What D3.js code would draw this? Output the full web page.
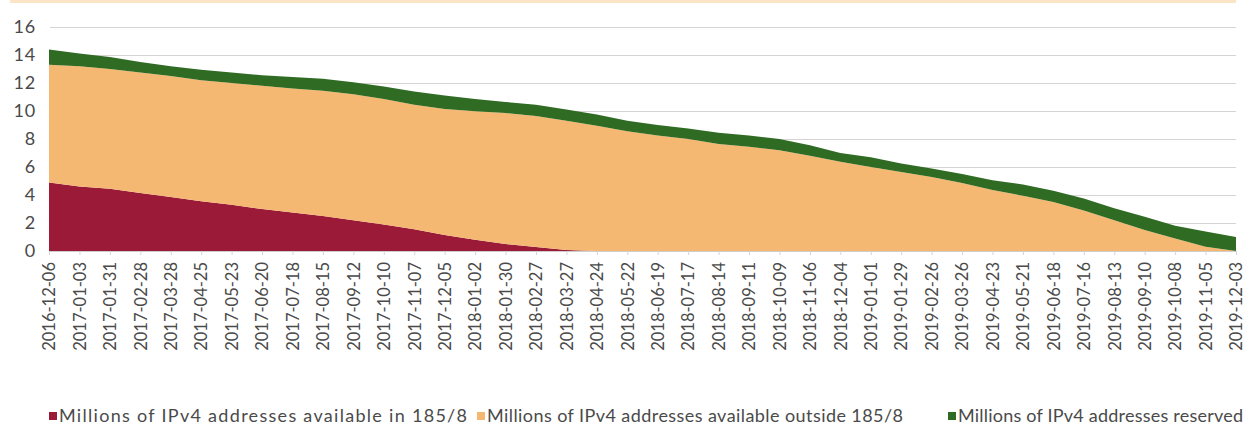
<!DOCTYPE html>
<html>
<head>
<meta charset="utf-8">
<script src="https://cdn.jsdelivr.net/npm/d3@7"></script>
<style>
  html, body { margin: 0; padding: 0; background: #ffffff; }
  svg { display: block; }
  text { font-family: Lato, "Open Sans", sans-serif; }
</style>
</head>
<body>
<svg id="chart" width="1252" height="444"></svg>
<script>
// ---- data ----
const dates = ["2016-12-06","2017-01-03","2017-01-31","2017-02-28","2017-03-28","2017-04-25","2017-05-23","2017-06-20","2017-07-18","2017-08-15","2017-09-12","2017-10-10","2017-11-07","2017-12-05","2018-01-02","2018-01-30","2018-02-27","2018-03-27","2018-04-24","2018-05-22","2018-06-19","2018-07-17","2018-08-14","2018-09-11","2018-10-09","2018-11-06","2018-12-04","2019-01-01","2019-01-29","2019-02-26","2019-03-26","2019-04-23","2019-05-21","2019-06-18","2019-07-16","2019-08-13","2019-09-10","2019-10-08","2019-11-05","2019-12-03"];

const inside185 = [4.9,4.6,4.45,4.15,3.85,3.55,3.3,3.0,2.75,2.5,2.2,1.9,1.55,1.15,0.8,0.5,0.28,0.08,0,0,0,0,0,0,0,0,0,0,0,0,0,0,0,0,0,0,0,0,0,0];
const outside185 = [8.4,8.6,8.55,8.6,8.65,8.65,8.7,8.8,8.85,8.95,9.0,8.95,8.9,9.0,9.18,9.35,9.37,9.22,8.95,8.55,8.25,8.0,7.65,7.45,7.2,6.8,6.37,6.0,5.65,5.28,4.85,4.35,3.95,3.5,2.9,2.2,1.5,0.9,0.3,0.0];
const reserved = [1.1,0.9,0.85,0.75,0.7,0.75,0.75,0.75,0.82,0.85,0.85,0.9,0.95,0.95,0.87,0.8,0.8,0.8,0.8,0.75,0.75,0.75,0.8,0.8,0.8,0.75,0.63,0.7,0.6,0.62,0.65,0.7,0.8,0.8,0.85,0.85,0.95,0.9,1.1,1.0];

const seriesNames = ["Millions of IPv4 addresses available in 185/8","Millions of IPv4 addresses available outside 185/8","Millions of IPv4 addresses reserved"];
const seriesColors = ["#9a1a37","#f5b873","#306b24"];
const yTicks = [0,2,4,6,8,10,12,14,16];

// ---- build table ----
const parse = d3.timeParse("%Y-%m-%d");
const keys = ["inside","outside","reserved"];
const rows = dates.map((d, i) => ({ date: parse(d), inside: inside185[i], outside: outside185[i], reserved: reserved[i] }));
const stacked = d3.stack().keys(keys)(rows);

// ---- layout ----
const svg = d3.select("#chart");
const plotLeft = 50, plotRight = 1236, plotTop = 27, plotBottom = 251;

const x = d3.scaleTime().domain(d3.extent(rows, d => d.date)).range([49, 1236]);
const y = d3.scaleLinear().domain([0, 16]).range([plotBottom, plotTop]);

// top decorative band
svg.append("rect").attr("x", 10).attr("y", 0).attr("width", 1226).attr("height", 3).attr("fill", "#fce4c6");

// gridlines
const gy = svg.append("g").attr("transform", `translate(${plotLeft},0)`)
  .call(d3.axisLeft(y).tickValues(yTicks).tickSize(-(plotRight - plotLeft)).tickFormat(""));
gy.select(".domain").remove();
gy.selectAll(".tick line").attr("stroke", "#d6d3d3").attr("stroke-width", 1.2);

// areas
const area = d3.area().x(d => x(d.data.date)).y0(d => y(d[0])).y1(d => y(d[1]));
svg.append("g").selectAll("path").data(stacked).join("path")
  .attr("d", area).attr("fill", (d, i) => seriesColors[i]);

// y axis labels
const ya = svg.append("g").attr("transform", `translate(${plotLeft},0)`)
  .call(d3.axisLeft(y).tickValues(yTicks).tickSize(0).tickPadding(14));
ya.select(".domain").remove();
ya.selectAll("text").attr("font-size", 18).attr("fill", "#4a4a4a").attr("font-family", "Lato, sans-serif")
  .attr("letter-spacing", 0.8);

// x axis
const xa = svg.append("g").attr("transform", `translate(0,${plotBottom})`)
  .call(d3.axisBottom(x).tickValues(rows.map(r => r.date)).tickSize(4).tickFormat(d3.timeFormat("%Y-%m-%d")));
xa.select(".domain").attr("stroke", "#cfcccc").attr("d", `M${plotLeft},0.5H${plotRight}`);
xa.selectAll(".tick line").attr("stroke", "#d6d3d3");
xa.selectAll("text")
  .attr("font-size", 16.5).attr("fill", "#4a4a4a").attr("font-family", "Lato, sans-serif")
  .attr("text-anchor", "end").attr("transform", "rotate(-90)")
  .attr("x", -11).attr("y", 0).attr("dy", "0.35em");

// legend
const legendX = [49, 477, 948];
const legendW = [408, 416, 285];
const lg = svg.append("g").attr("transform", "translate(0,416)");
seriesNames.forEach((name, i) => {
  const g = lg.append("g").attr("transform", `translate(${legendX[i]},0)`);
  g.append("rect").attr("x", 0).attr("y", -4).attr("width", 8).attr("height", 8).attr("fill", seriesColors[i]);
  g.append("text").attr("x", 10).attr("y", 0).attr("dy", "0.35em")
    .attr("font-size", 18).attr("fill", "#4a4a4a")
    .attr("textLength", legendW[i]).attr("lengthAdjust", "spacing")
    .text(name);
});
</script>
</body>
</html>
